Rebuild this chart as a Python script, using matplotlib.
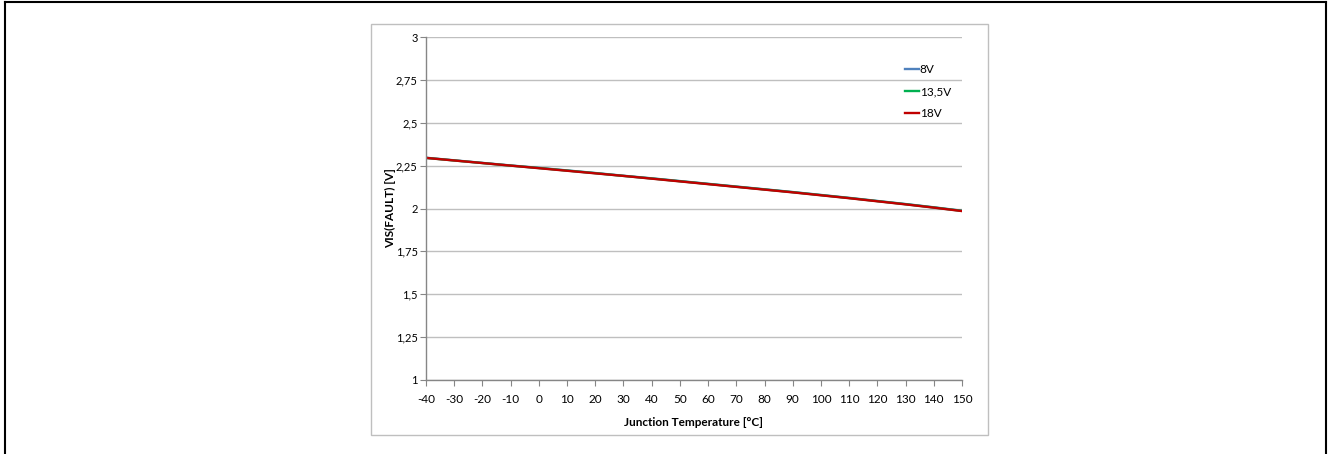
import matplotlib.pyplot as plt
from matplotlib.lines import Line2D
from matplotlib.patches import Rectangle

plt.rcParams['font.family'] = ['Lato', 'DejaVu Sans']

# junction temperature [°C]
temps = [-40, -30, -20, -10, 0, 10, 20, 30, 40, 50, 60, 70, 80, 90, 100, 110, 120, 130, 140, 150]
# VIS(FAULT) [V] for each supply voltage
v_8 = [2.296, 2.281, 2.266, 2.251, 2.237, 2.222, 2.207, 2.191, 2.176, 2.160, 2.144, 2.128, 2.112, 2.096, 2.079, 2.062, 2.044, 2.026, 2.007, 1.987]
v_13_5 = [2.295, 2.280, 2.265, 2.250, 2.236, 2.221, 2.206, 2.190, 2.175, 2.159, 2.143, 2.127, 2.111, 2.095, 2.078, 2.061, 2.043, 2.025, 2.006, 1.986]
v_18 = [2.295, 2.280, 2.265, 2.250, 2.235, 2.220, 2.205, 2.190, 2.174, 2.158, 2.142, 2.126, 2.110, 2.094, 2.077, 2.060, 2.042, 2.024, 2.005, 1.985]
series_labels = ['8V', '13,5V', '18V']
series_colors = ['#4f81bd', '#00b050', '#c00000']

yticks = [1, 1.25, 1.5, 1.75, 2, 2.25, 2.5, 2.75, 3]
ytick_labels = ['1', '1,25', '1,5', '1,75', '2', '2,25', '2,5', '2,75', '3']

W, H = 1329, 454
fig = plt.figure(figsize=(W / 100, H / 100), dpi=100)

# outer black frame (open at the bottom)
for xs, ys in [([5 / W, 5 / W], [0, 1 - 2 / H]),
               ([5 / W, 1326 / W], [1 - 2 / H, 1 - 2 / H]),
               ([1326 / W, 1326 / W], [0, 1 - 2 / H])]:
    fig.add_artist(Line2D(xs, ys, color='black', lw=1.5, transform=fig.transFigure))

# grey chart box
fig.add_artist(Rectangle((371 / W, 1 - 435 / H), (988 - 371) / W, (435 - 24) / H,
                         transform=fig.transFigure, fill=False, ec='#bfbfbf', lw=1))

ax = fig.add_axes([426 / W, 1 - 380 / H, (962 - 426) / W, (380 - 37) / H])

for vals, lab, col in zip([v_8, v_13_5, v_18], series_labels, series_colors):
    ax.plot(temps, vals, color=col, lw=1.7, label=lab)

ax.set_xlim(-40, 150)
ax.set_ylim(1, 3)
ax.set_xticks(temps)
ax.set_xticklabels([str(t) for t in temps])
ax.set_yticks(yticks)
ax.set_yticklabels(ytick_labels)
ax.grid(axis='y', color='#bfbfbf', lw=1)
ax.set_axisbelow(True)

for s in ['top', 'right']:
    ax.spines[s].set_visible(False)
for s in ['left', 'bottom']:
    ax.spines[s].set_color('#868686')
    ax.spines[s].set_linewidth(1)

ax.tick_params(axis='both', colors='#868686', labelcolor='black', labelsize=8.5, length=4, width=0.8)
ax.tick_params(axis='x', pad=6)
ax.tick_params(axis='y', pad=2, labelsize=8)

ax.set_xlabel('Junction Temperature [°C]', fontsize=8.5, fontweight='bold')
ax.set_ylabel('VIS(FAULT) [V]', fontsize=8.5, fontweight='bold')
ax.xaxis.set_label_coords(0.5, -0.108)
ax.yaxis.set_label_coords(-0.056, 0.5)

ax.legend(loc='upper left', bbox_to_anchor=(0.885, 0.935), frameon=False, fontsize=8.5,
          handlelength=1.15, handletextpad=0.1, labelspacing=0.95, borderaxespad=0)

fig.savefig('out.png', dpi=100)
